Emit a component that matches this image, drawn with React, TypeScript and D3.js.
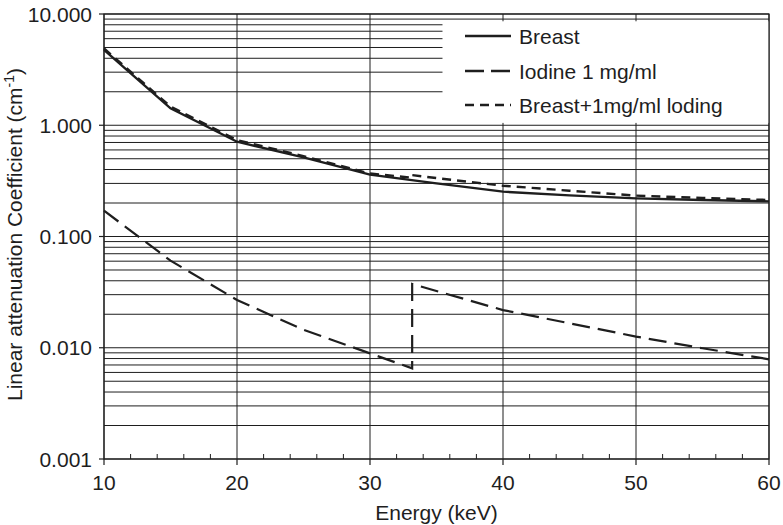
import React from "react";
import * as d3 from "d3";

const breastE = [10, 15, 20, 25, 30, 35, 40, 45, 50, 55, 60];
const breastMu = [4.75, 1.42, 0.711, 0.515, 0.36, 0.3, 0.253, 0.234, 0.22, 0.213, 0.207];

const iodineE = [10, 15, 20, 25, 30, 33.17, 33.17, 40, 45, 50, 55, 60];
const iodineMu = [0.1706, 0.0607, 0.0269, 0.0145, 0.0089, 0.00653, 0.0374, 0.0218, 0.0166, 0.0126, 0.0099, 0.00787];

const mixE = [10, 15, 20, 25, 30, 33.17, 33.17, 35, 40, 45, 50, 55, 60];
const mixMu = [4.9, 1.47, 0.735, 0.528, 0.368, 0.338, 0.356, 0.335, 0.286, 0.258, 0.233, 0.222, 0.213];

const xMajor = [10, 20, 30, 40, 50, 60];
const xMinor = [12, 14, 16, 18, 22, 24, 26, 28, 32, 34, 36, 38, 42, 44, 46, 48, 52, 54, 56, 58];
const yDecades = [10, 1, 0.1, 0.01, 0.001];

const legendNames = ["Breast", "Iodine 1 mg/ml", "Breast+1mg/ml loding"];
const legendDash = ["none", "19,7", "9,6"];

const W = 783;
const H = 525;
const L = 104;
const R = 769;
const T = 14;
const B = 459;
const FONT = "'Liberation Sans', Arial, Helvetica, sans-serif";
const INK = "#1e1e1e";

export default function App() {
  const x = d3.scaleLinear().domain([10, 60]).range([L, R]);
  const y = d3.scaleLog().domain([0.001, 10]).range([B, T]);

  const gridY: number[] = [];
  for (let e = -3; e < 1; e++) {
    for (let m = 1; m <= 9; m++) gridY.push(m * Math.pow(10, e));
  }
  gridY.push(10);

  const line = d3
    .line<[number, number]>()
    .x((d) => x(d[0]))
    .y((d) => y(d[1]))
    .curve(d3.curveLinear);

  const zip = (a: number[], b: number[]) => a.map((v, i) => [v, b[i]] as [number, number]);

  const legX = x(35.45);
  const rows = [36, 71, 105];

  return (
    <>
      <style>{`body{margin:0}`}</style>
      <svg width={W} height={H} style={{ display: "block", background: "#fff" }} fontFamily={FONT}>
        <rect x={0} y={0} width={W} height={H} fill="#fff" />
        {gridY.map((v, i) => (
          <line key={"gy" + i} x1={L} x2={R} y1={y(v)} y2={y(v)} stroke={INK} strokeWidth={1} />
        ))}
        {xMajor.map((v) => (
          <line key={"gx" + v} x1={x(v)} x2={x(v)} y1={T} y2={B} stroke={INK} strokeWidth={1} />
        ))}
        <rect x={legX} y={y(8.6)} width={R - legX} height={y(1.05) - y(8.6)} fill="#fff" />
        <rect x={L} y={T} width={R - L} height={B - T} fill="none" stroke={INK} strokeWidth={1.2} />
        {xMajor.map((v) => (
          <line key={"xt" + v} x1={x(v)} x2={x(v)} y1={B} y2={B + 6} stroke={INK} strokeWidth={1.2} />
        ))}
        {xMinor.map((v) => (
          <line key={"xm" + v} x1={x(v)} x2={x(v)} y1={B} y2={B - 5} stroke={INK} strokeWidth={1} />
        ))}
        {xMajor.map((v) => (
          <text key={"xl" + v} x={x(v)} y={490} textAnchor="middle" fontSize={21} fill={INK}>
            {v}
          </text>
        ))}
        {yDecades.map((v) => (
          <line key={"yt" + v} x1={L - 5} x2={L} y1={y(v)} y2={y(v)} stroke={INK} strokeWidth={1.2} />
        ))}
        {yDecades.map((v) => (
          <text key={"yl" + v} x={92} y={y(v)} dy="0.36em" textAnchor="end" fontSize={21} fill={INK}>
            {d3.format(".3f")(v)}
          </text>
        ))}
        <path d={line(zip(breastE, breastMu)) || ""} fill="none" stroke={INK} strokeWidth={2.4} />
        <path d={line(zip(iodineE, iodineMu)) || ""} fill="none" stroke={INK} strokeWidth={2.2} strokeDasharray="18,8" />
        <path d={line(zip(mixE, mixMu)) || ""} fill="none" stroke={INK} strokeWidth={2.4} strokeDasharray="9,6" />
        {legendNames.map((n, i) => (
          <g key={n}>
            <line
              x1={465}
              x2={511}
              y1={rows[i]}
              y2={rows[i]}
              stroke={INK}
              strokeWidth={2.4}
              strokeDasharray={legendDash[i] === "none" ? undefined : legendDash[i]}
            />
            <text x={519} y={rows[i]} dy="0.36em" fontSize={21} fill={INK}>
              {n}
            </text>
          </g>
        ))}
        <text x={(L + R) / 2} y={520} textAnchor="middle" fontSize={21} fill={INK}>
          Energy (keV)
        </text>
        <text transform={`translate(22, ${(T + B) / 2 - 2}) rotate(-90)`} textAnchor="middle" fontSize={21} fill={INK}>
          Linear attenuation Coefficient (cm
          <tspan fontSize={14} dy={-8}>-1</tspan>
          <tspan dy={8}>)</tspan>
        </text>
      </svg>
    </>
  );
}
